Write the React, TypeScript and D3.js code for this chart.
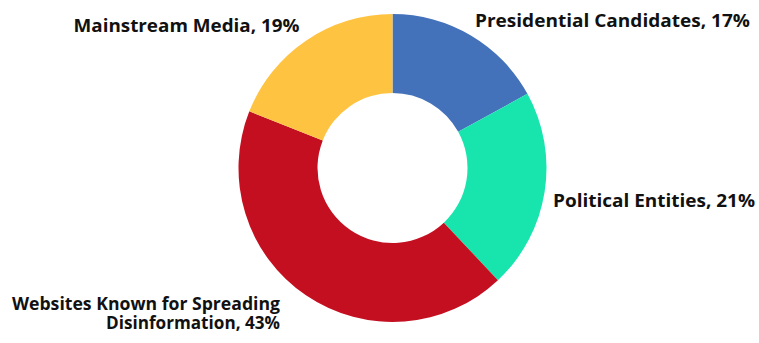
import React from "react";
import * as d3 from "d3";

const categories = ["Presidential Candidates", "Political Entities", "Websites Known for Spreading Disinformation", "Mainstream Media"];
const values = [17, 21, 43, 19];
const colors = ["#4372BA", "#17E5AD", "#C30F20", "#FFC342"];
const labelLines = [
  ["Presidential Candidates, 17%"],
  ["Political Entities, 21%"],
  ["Websites Known for Spreading", "Disinformation, 43%"],
  ["Mainstream Media, 19%"],
];

const W = 759;
const H = 343;
const cx = 392.5;
const cy = 168;
const outerR = 154;
const innerR = 75;

// label anchors (x, first baseline, anchor) and line widths
const labelPos: [number, number, "start" | "end"][] = [
  [475, 27, "start"],
  [553, 207, "start"],
  [280, 310, "end"],
  [299.5, 32, "end"],
];
const lineWidths = [[275], [202], [268, 174], [226]];

export default function App() {
  const pie = d3.pie<number>().sort(null).value((d) => d);
  const arcs = pie(values);
  const arc = d3.arc<d3.PieArcDatum<number>>().innerRadius(innerR).outerRadius(outerR);
  return (
    <svg width={W} height={H} style={{ position: "absolute", left: 0, top: 0 }}>
      <g transform={`translate(${cx},${cy})`}>
        {arcs.map((a, i) => (
          <path key={categories[i]} d={arc(a) || ""} fill={colors[i]} />
        ))}
      </g>
      {labelLines.map((lines, i) =>
        lines.map((l, j) => (
          <text
            key={`${i}-${j}`}
            x={labelPos[i][0]}
            y={labelPos[i][1] + j * 19}
            textAnchor={labelPos[i][2]}
            fontFamily="'Open Sans', sans-serif"
            fontWeight={700}
            fontSize={18.5}
            fill="#111"
            textLength={lineWidths[i][j]}
            lengthAdjust="spacingAndGlyphs"
          >
            {l}
          </text>
        ))
      )}
    </svg>
  );
}
